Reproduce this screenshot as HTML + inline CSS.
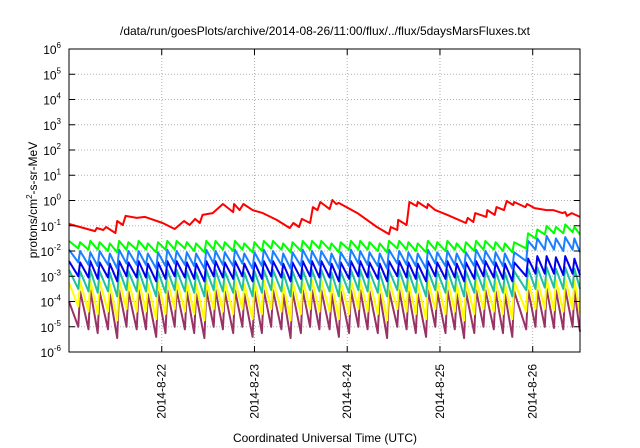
<!DOCTYPE html>
<html><head><meta charset="utf-8">
<style>
body{margin:0;background:#fff;}
svg{display:block;font-family:"Liberation Sans",sans-serif;}
</style></head>
<body>
<svg id="chart" width="640" height="448" viewBox="0 0 640 448" xmlns="http://www.w3.org/2000/svg">
<rect x="0" y="0" width="640" height="448" fill="#fff"/>
<text x="325" y="35" font-size="12" text-anchor="middle" fill="#000">/data/run/goesPlots/archive/2014-08-26/11:00/flux/../flux/5daysMarsFluxes.txt</text>
<g id="grid"></g>
<g id="series"></g>
<rect x="69" y="49" width="511" height="303" fill="none" stroke="#000" stroke-width="1"/>
<g id="axes"></g>
<text transform="translate(37,200) rotate(-90)" font-size="12" text-anchor="middle">protons/cm<tspan font-size="8" dy="-5">2</tspan><tspan dy="5">-s-sr-MeV</tspan></text>
<text x="325" y="442" font-size="12" text-anchor="middle">Coordinated Universal Time (UTC)</text>
</svg>
<script>
const xTickDays = [1, 2, 3, 4, 5];
const xTickLabels = ["2014-8-22", "2014-8-23", "2014-8-24", "2014-8-25", "2014-8-26"];
const yTickExps = [-6, -5, -4, -3, -2, -1, 0, 1, 2, 3, 4, 5, 6];
const xMin = 0, xMax = 5.51, yMin = -6, yMax = 6;

const redT = [0.00,0.28,0.30,0.37,0.40,0.50,0.52,0.58,0.61,0.73,0.82,1.01,1.14,1.24,1.30,1.36,1.41,1.44,1.55,1.66,1.77,1.78,1.84,1.88,1.98,2.09,2.24,2.38,2.42,2.48,2.51,2.60,2.63,2.68,2.71,2.81,2.84,2.88,2.91,3.11,3.32,3.45,3.47,3.54,3.55,3.64,3.67,3.75,3.76,3.86,3.87,3.95,4.08,4.28,4.30,4.36,4.38,4.50,4.51,4.59,4.61,4.69,4.72,4.79,4.80,4.92,4.94,5.02,5.15,5.22,5.32,5.35,5.37,5.42,5.51];
const redV = [-0.93,-1.21,-1.09,-1.17,-1.05,-1.29,-0.81,-0.97,-0.61,-0.69,-0.65,-0.89,-1.13,-0.81,-0.97,-0.73,-0.89,-0.57,-0.50,-0.14,-0.46,-0.14,-0.38,-0.14,-0.38,-0.50,-0.77,-1.09,-0.89,-1.05,-0.73,-0.89,-0.26,-0.38,-0.06,-0.34,0.02,-0.14,-0.10,-0.50,-1.05,-1.33,-1.05,-1.17,-0.77,-0.97,-0.06,-0.22,-0.06,-0.30,-0.14,-0.38,-0.57,-0.89,-0.69,-0.85,-0.50,-0.65,-0.38,-0.57,-0.26,-0.38,-0.02,-0.18,-0.06,-0.26,-0.14,-0.30,-0.38,-0.38,-0.50,-0.46,-0.61,-0.50,-0.65];

const toothT = [0.00,0.10,0.21,0.31,0.42,0.52,0.62,0.73,0.83,0.94,1.04,1.14,1.25,1.35,1.46,1.56,1.66,1.77,1.87,1.98,2.08,2.18,2.29,2.39,2.50,2.60,2.70,2.81,2.91,3.02,3.12,3.22,3.33,3.43,3.54,3.64,3.74,3.85,3.95,4.06,4.16,4.26,4.37,4.47,4.58,4.68,4.78,4.93,5.03,5.13,5.23,5.33,5.43];

const greenPeak = [-1.60,-1.65,-1.60,-1.65,-1.70,-1.60,-1.65,-1.60,-1.70,-1.65,-1.60,-1.60,-1.65,-1.70,-1.60,-1.60,-1.65,-1.60,-1.70,-1.65,-1.60,-1.60,-1.70,-1.65,-1.60,-1.60,-1.60,-1.70,-1.65,-1.60,-1.60,-1.65,-1.70,-1.60,-1.60,-1.65,-1.70,-1.60,-1.65,-1.60,-1.70,-1.65,-1.60,-1.60,-1.65,-1.70,-1.65,-1.30,-1.15,-1.00,-1.05,-0.95,-1.05];
const greenTrough = [-1.90,-1.95,-1.95,-2.00,-2.05,-1.95,-1.95,-1.95,-2.05,-1.95,-1.95,-1.90,-2.00,-2.05,-1.95,-1.95,-2.00,-1.95,-2.05,-2.00,-1.90,-1.95,-2.05,-2.00,-1.95,-1.90,-1.95,-2.05,-1.95,-1.95,-1.95,-2.00,-2.05,-1.90,-1.95,-2.00,-2.05,-1.95,-2.00,-1.95,-2.05,-2.00,-1.95,-1.95,-2.00,-2.05,-1.90,-1.50,-1.35,-1.30,-1.30,-1.25,-1.35];

const lblueP = [-1.95,-2.00,-2.05,-2.00,-2.10,-1.95,-2.00,-2.00,-2.10,-2.05,-1.95,-2.00,-2.05,-2.10,-1.95,-2.00,-2.05,-1.95,-2.10,-2.05,-1.95,-2.00,-2.10,-2.05,-1.95,-2.00,-2.00,-2.10,-2.05,-1.95,-2.00,-2.05,-2.10,-1.95,-2.00,-2.05,-2.10,-1.95,-2.05,-2.00,-2.10,-2.05,-1.95,-2.00,-2.05,-2.10,-2.05,-1.60,-1.50,-1.40,-1.50,-1.45,-1.50];
const lblueT = [-2.45,-2.55,-2.60,-2.55,-2.70,-2.50,-2.55,-2.55,-2.70,-2.60,-2.50,-2.55,-2.60,-2.70,-2.50,-2.55,-2.60,-2.50,-2.70,-2.60,-2.50,-2.55,-2.70,-2.60,-2.50,-2.55,-2.55,-2.70,-2.60,-2.50,-2.55,-2.60,-2.70,-2.50,-2.55,-2.60,-2.70,-2.50,-2.60,-2.55,-2.70,-2.60,-2.50,-2.55,-2.60,-2.70,-2.40,-1.95,-1.95,-1.95,-2.00,-1.95,-2.05];

const blueP = [-2.40,-2.45,-2.40,-2.45,-2.50,-2.40,-2.45,-2.40,-2.50,-2.45,-2.40,-2.40,-2.45,-2.50,-2.40,-2.40,-2.45,-2.40,-2.50,-2.45,-2.40,-2.40,-2.50,-2.45,-2.40,-2.40,-2.40,-2.50,-2.45,-2.40,-2.40,-2.45,-2.50,-2.40,-2.40,-2.45,-2.50,-2.40,-2.45,-2.40,-2.50,-2.45,-2.40,-2.40,-2.45,-2.50,-2.45,-2.30,-2.20,-2.20,-2.25,-2.20,-2.30];
const blueT = [-3.00,-3.05,-3.10,-3.05,-3.20,-3.00,-3.05,-3.05,-3.20,-3.10,-3.00,-3.05,-3.10,-3.20,-3.00,-3.05,-3.10,-3.00,-3.20,-3.10,-3.00,-3.05,-3.20,-3.10,-3.00,-3.05,-3.05,-3.20,-3.10,-3.00,-3.05,-3.10,-3.20,-3.00,-3.05,-3.10,-3.20,-3.00,-3.10,-3.05,-3.20,-3.10,-3.00,-3.05,-3.10,-3.20,-3.00,-2.90,-2.90,-2.90,-2.95,-2.90,-2.95];

const tealP = [-2.75,-2.80,-2.75,-2.80,-2.85,-2.75,-2.80,-2.75,-2.85,-2.80,-2.75,-2.75,-2.80,-2.85,-2.75,-2.75,-2.80,-2.75,-2.85,-2.80,-2.75,-2.75,-2.85,-2.80,-2.75,-2.75,-2.75,-2.85,-2.80,-2.75,-2.75,-2.80,-2.85,-2.75,-2.75,-2.80,-2.85,-2.75,-2.80,-2.75,-2.85,-2.80,-2.75,-2.75,-2.80,-2.85,-2.80,-2.70,-2.65,-2.65,-2.70,-2.65,-2.70];
const tealT = [-3.50,-3.60,-3.65,-3.60,-3.80,-3.55,-3.60,-3.60,-3.80,-3.65,-3.55,-3.60,-3.65,-3.80,-3.55,-3.60,-3.65,-3.55,-3.80,-3.65,-3.55,-3.60,-3.80,-3.65,-3.55,-3.60,-3.60,-3.80,-3.65,-3.55,-3.60,-3.65,-3.80,-3.55,-3.60,-3.65,-3.80,-3.55,-3.65,-3.60,-3.80,-3.65,-3.55,-3.60,-3.65,-3.80,-3.55,-3.50,-3.45,-3.45,-3.50,-3.45,-3.50];

const yellowP = [-3.25,-3.20,-3.15,-3.20,-3.30,-3.15,-3.20,-3.15,-3.30,-3.20,-3.15,-3.15,-3.20,-3.30,-3.15,-3.15,-3.20,-3.15,-3.30,-3.20,-3.15,-3.15,-3.30,-3.20,-3.15,-3.15,-3.15,-3.30,-3.20,-3.15,-3.15,-3.20,-3.30,-3.15,-3.15,-3.20,-3.30,-3.15,-3.20,-3.15,-3.30,-3.20,-3.15,-3.15,-3.20,-3.30,-3.20,-3.15,-3.15,-3.10,-3.15,-3.10,-3.15];
const yellowT = [-4.20,-4.40,-4.50,-4.40,-4.75,-4.30,-4.40,-4.40,-4.70,-4.50,-4.30,-4.40,-4.50,-4.75,-4.30,-4.40,-4.50,-4.30,-4.70,-4.50,-4.30,-4.40,-4.75,-4.50,-4.30,-4.40,-4.40,-4.70,-4.50,-4.30,-4.40,-4.50,-4.75,-4.30,-4.40,-4.50,-4.70,-4.30,-4.50,-4.40,-4.75,-4.50,-4.30,-4.40,-4.50,-4.70,-4.40,-4.30,-4.30,-4.35,-4.40,-4.30,-4.45];

const purpleP = [-4.00,-3.60,-3.55,-3.60,-3.70,-3.55,-3.60,-3.55,-3.70,-3.60,-3.55,-3.55,-3.60,-3.70,-3.55,-3.55,-3.60,-3.55,-3.70,-3.60,-3.55,-3.55,-3.70,-3.60,-3.55,-3.55,-3.55,-3.70,-3.60,-3.55,-3.55,-3.60,-3.70,-3.55,-3.55,-3.60,-3.70,-3.55,-3.60,-3.55,-3.70,-3.60,-3.55,-3.55,-3.60,-3.70,-3.60,-3.55,-3.55,-3.50,-3.55,-3.50,-3.55];
const purpleT = [-5.00,-5.10,-5.25,-5.10,-5.45,-5.00,-5.10,-5.10,-5.40,-5.25,-5.00,-5.10,-5.25,-5.45,-5.00,-5.10,-5.25,-5.00,-5.40,-5.25,-5.00,-5.10,-5.45,-5.25,-5.00,-5.10,-5.10,-5.40,-5.25,-5.00,-5.10,-5.25,-5.45,-5.00,-5.10,-5.25,-5.40,-5.00,-5.25,-5.10,-5.45,-5.25,-5.00,-5.10,-5.25,-5.40,-5.10,-5.00,-5.00,-5.05,-5.10,-5.00,-5.20];

const PL = 69, PR = 580, PT = 49, PB = 352;
function xs(d) { return PL + (d - xMin) / (xMax - xMin) * (PR - PL); }
function ys(v) { return PB - (v - yMin) / (yMax - yMin) * (PB - PT); }
const NS = "http://www.w3.org/2000/svg";
const grid = document.getElementById('grid');
const axes = document.getElementById('axes');
const seriesG = document.getElementById('series');

yTickExps.forEach(e => {
  const y = ys(e);
  if (e > yMin && e < yMax) {
    const g = document.createElementNS(NS, 'line');
    
    
    g.setAttribute('x1', PL); g.setAttribute('x2', PR); g.setAttribute('y1', y); g.setAttribute('y2', y);
    g.setAttribute('stroke', '#b0b0b0'); g.setAttribute('stroke-dasharray', '1,2'); g.setAttribute('stroke-width', '1');
    grid.appendChild(g);
  }
  [[PL, PL + 6], [PR - 6, PR]].forEach(p => {
    const t = document.createElementNS(NS, 'line');
    
    
    t.setAttribute('x1', p[0]); t.setAttribute('x2', p[1]); t.setAttribute('y1', y); t.setAttribute('y2', y);
    t.setAttribute('stroke', '#000');
    axes.appendChild(t);
  });
  const lab = document.createElementNS(NS, 'text');
  
  
  lab.setAttribute('x', 61); lab.setAttribute('y', y + 5);
  lab.setAttribute('text-anchor', 'end'); lab.setAttribute('font-size', '12');
  lab.innerHTML = '10<tspan font-size="8" dy="-6">' + e + '</tspan>';
  axes.appendChild(lab);
});

xTickDays.forEach((d, i) => {
  const x = xs(d);
  const g = document.createElementNS(NS, 'line');
  
  
  g.setAttribute('x1', x); g.setAttribute('x2', x); g.setAttribute('y1', PT); g.setAttribute('y2', PB);
  g.setAttribute('stroke', '#b0b0b0'); g.setAttribute('stroke-dasharray', '1,2');
  grid.appendChild(g);
  [[PB - 6, PB], [PT, PT + 6]].forEach(p => {
    const t = document.createElementNS(NS, 'line');
    
    
    t.setAttribute('x1', x); t.setAttribute('x2', x); t.setAttribute('y1', p[0]); t.setAttribute('y2', p[1]);
    t.setAttribute('stroke', '#000');
    axes.appendChild(t);
  });
  const lab = document.createElementNS(NS, 'text');
  
  
  lab.setAttribute('transform', 'translate(' + (x + 4) + ',364) rotate(-90)');
  lab.setAttribute('text-anchor', 'end'); lab.setAttribute('font-size', '12');
  lab.textContent = xTickLabels[i];
  axes.appendChild(lab);
});

function addPath(pts, color, name) {
  const p = document.createElementNS(NS, 'polyline');
  
  
  p.setAttribute('points', pts.map(q => xs(q[0]).toFixed(1) + ',' + ys(q[1]).toFixed(1)).join(' '));
  p.setAttribute('fill', 'none'); p.setAttribute('stroke', color);
  p.setAttribute('stroke-width', '2'); p.setAttribute('stroke-linejoin', 'round');
  seriesG.appendChild(p);
}
function sawtooth(peaks, troughs) {
  const pts = [];
  for (let i = 0; i < toothT.length; i++) {
    if (i === 0) pts.push([toothT[0], peaks[0]]);
    else { pts.push([toothT[i], troughs[i - 1]]); pts.push([toothT[i] + 0.02, peaks[i]]); }
  }
  pts.push([xMax, troughs[toothT.length - 1]]);
  return pts;
}
addPath(sawtooth(purpleP, purpleT), '#993366', 'series-purple');
addPath(sawtooth(yellowP, yellowT), '#ffff00', 'series-yellow');
addPath(sawtooth(tealP, tealT), '#20c0a0', 'series-teal');
addPath(sawtooth(blueP, blueT), '#0000ee', 'series-blue');
addPath(sawtooth(lblueP, lblueT), '#1a80ff', 'series-light-blue');
addPath(sawtooth(greenPeak, greenTrough), '#00ff00', 'series-green');
addPath(redT.map((t, i) => [t, redV[i]]), '#ff0000', 'series-red');
</script>
</body></html>
